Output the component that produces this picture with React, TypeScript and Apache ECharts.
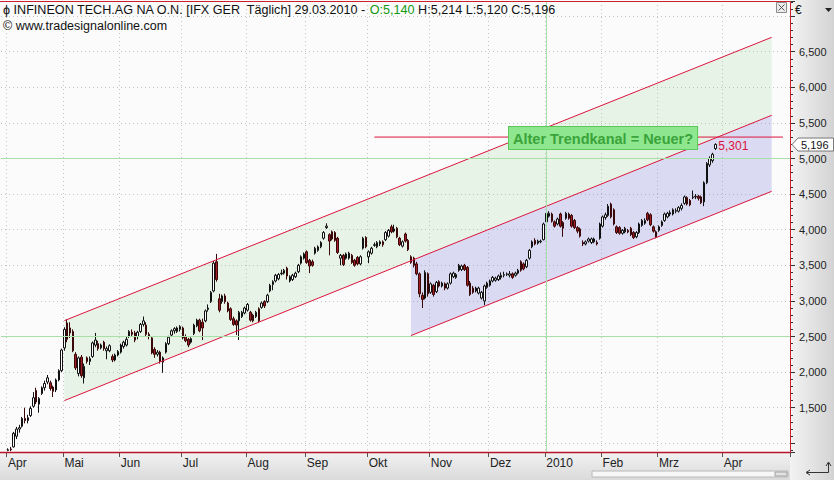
import React, { useEffect, useRef } from 'react';
import * as echarts from 'echarts';

// ---- Axis / calendar data ----
const monthLabels = ['Apr', 'Mai', 'Jun', 'Jul', 'Aug', 'Sep', 'Okt', 'Nov', 'Dez', '2010', 'Feb', 'Mrz', 'Apr'];
// trading-day number (from 1 Apr 2009) of the first session in each month
const monthStartDay = [0, 20, 40, 62, 85, 106, 128, 150, 171, 191, 211, 231, 254];
const LEAD = 2; // empty slots before the first session
const SLOTS = 280; // sessions shown incl. future space
const labelledRange = [1.5, 6.5]; // price labels shown on the right axis

// ---- Daily candles [open, close, low, high] (EUR) ----
const candlesApr09 = [
  [0.90, 0.91, 0.89, 0.93], [0.92, 0.91, 0.89, 0.95], [0.95, 1.14, 0.94, 1.16], [1.10, 1.20, 1.06, 1.23], [1.20, 1.22, 1.15, 1.26],
  [1.24, 1.35, 1.22, 1.37], [1.35, 1.32, 1.28, 1.50], [1.32, 1.36, 1.28, 1.40], [1.39, 1.49, 1.37, 1.52], [1.52, 1.64, 1.50, 1.72],
  [1.74, 1.58, 1.55, 1.78], [1.55, 1.63, 1.43, 1.65], [1.70, 1.78, 1.68, 1.80], [1.78, 1.84, 1.74, 1.88], [1.86, 1.92, 1.83, 1.96],
  [1.85, 1.77, 1.74, 1.88], [1.79, 1.73, 1.65, 1.81], [1.75, 1.89, 1.72, 1.91], [1.89, 2.02, 1.87, 2.04], [2.02, 2.31, 2.00, 2.33],
];
const candlesMai09 = [
  [2.34, 2.60, 2.30, 2.63], [2.69, 2.46, 2.42, 2.74], [2.62, 2.55, 2.48, 2.70], [2.57, 2.30, 2.28, 2.60], [2.25, 2.06, 2.03, 2.28],
  [1.98, 2.20, 1.94, 2.22], [2.21, 1.95, 1.92, 2.24], [1.92, 2.08, 1.84, 2.12], [2.20, 2.15, 2.12, 2.22], [2.15, 2.19, 2.10, 2.22],
  [2.22, 2.41, 2.20, 2.43], [2.38, 2.45, 2.35, 2.55], [2.40, 2.33, 2.30, 2.44], [2.34, 2.38, 2.32, 2.40], [2.42, 2.33, 2.30, 2.44],
  [2.30, 2.33, 2.18, 2.36], [2.30, 2.37, 2.28, 2.39], [2.22, 2.17, 2.14, 2.25], [2.17, 2.24, 2.15, 2.26], [2.24, 2.29, 2.22, 2.31],
];
const candlesJun09 = [
  [2.28, 2.38, 2.26, 2.40], [2.36, 2.42, 2.33, 2.44], [2.38, 2.46, 2.36, 2.50], [2.50, 2.57, 2.48, 2.59], [2.56, 2.53, 2.50, 2.60],
  [2.55, 2.45, 2.42, 2.58], [2.50, 2.56, 2.46, 2.58], [2.57, 2.67, 2.55, 2.69], [2.67, 2.72, 2.64, 2.78], [2.66, 2.53, 2.50, 2.70],
  [2.53, 2.50, 2.46, 2.56], [2.48, 2.27, 2.25, 2.50], [2.32, 2.25, 2.20, 2.35], [2.25, 2.28, 2.22, 2.31], [2.28, 2.15, 2.12, 2.30],
  [2.14, 2.20, 1.99, 2.22], [2.28, 2.40, 2.26, 2.42], [2.40, 2.49, 2.38, 2.51], [2.52, 2.58, 2.50, 2.60], [2.58, 2.61, 2.54, 2.63],
  [2.57, 2.62, 2.55, 2.64], [2.60, 2.64, 2.57, 2.66],
];
const candlesJul09 = [
  [2.62, 2.48, 2.46, 2.64], [2.50, 2.44, 2.42, 2.53], [2.46, 2.38, 2.35, 2.48], [2.42, 2.47, 2.40, 2.49], [2.54, 2.66, 2.52, 2.68],
  [2.65, 2.73, 2.63, 2.75], [2.73, 2.58, 2.56, 2.75], [2.70, 2.62, 2.45, 2.75], [2.72, 2.86, 2.70, 2.88], [2.88, 2.90, 2.85, 2.95],
  [2.99, 3.12, 2.97, 3.14], [3.14, 3.53, 3.12, 3.56], [3.55, 3.30, 3.27, 3.66], [3.03, 2.87, 2.84, 3.10], [2.99, 3.07, 2.96, 3.09],
  [3.07, 2.99, 2.96, 3.10], [2.97, 2.86, 2.84, 2.99], [2.89, 2.74, 2.72, 2.91], [2.75, 2.67, 2.65, 2.78], [2.72, 2.66, 2.52, 2.74],
  [2.72, 2.84, 2.45, 2.86], [2.78, 2.84, 2.76, 2.86], [2.83, 2.90, 2.81, 2.92],
];
const candlesAug09 = [
  [2.87, 2.95, 2.85, 2.97], [2.84, 2.73, 2.71, 2.86], [2.80, 2.72, 2.70, 2.82], [2.78, 2.84, 2.76, 2.86], [2.89, 2.72, 2.70, 2.91],
  [2.91, 2.97, 2.89, 2.99], [2.99, 2.93, 2.90, 3.01], [2.99, 3.08, 2.97, 3.10], [3.14, 3.22, 3.12, 3.24], [3.23, 3.27, 3.15, 3.29],
  [3.28, 3.36, 3.26, 3.38], [3.31, 3.37, 3.29, 3.39], [3.38, 3.39, 3.36, 3.44], [3.39, 3.43, 3.37, 3.45], [3.46, 3.35, 3.30, 3.48],
  [3.28, 3.34, 3.26, 3.36], [3.30, 3.36, 3.28, 3.38], [3.34, 3.39, 3.32, 3.41], [3.41, 3.50, 3.39, 3.52], [3.53, 3.62, 3.51, 3.64],
  [3.60, 3.66, 3.58, 3.68],
];
const candlesSep09 = [
  [3.69, 3.54, 3.52, 3.71], [3.57, 3.49, 3.39, 3.59], [3.55, 3.50, 3.48, 3.58], [3.67, 3.74, 3.65, 3.76], [3.71, 3.76, 3.69, 3.78],
  [3.76, 3.82, 3.74, 3.84], [3.88, 3.96, 3.86, 3.98], [4.03, 4.05, 4.01, 4.09], [3.93, 3.84, 3.64, 3.95], [3.97, 3.87, 3.85, 3.99],
  [3.96, 3.85, 3.83, 3.98], [3.88, 3.68, 3.66, 3.90], [3.60, 3.64, 3.50, 3.66], [3.64, 3.51, 3.49, 3.66], [3.60, 3.66, 3.58, 3.68],
  [3.60, 3.67, 3.58, 3.69], [3.64, 3.54, 3.52, 3.66], [3.57, 3.50, 3.48, 3.59], [3.61, 3.52, 3.50, 3.63], [3.52, 3.62, 3.50, 3.64],
  [3.74, 3.88, 3.72, 3.90], [3.89, 3.76, 3.74, 3.91],
];
const candlesOkt09 = [
  [3.62, 3.69, 3.53, 3.71], [3.67, 3.74, 3.65, 3.76], [3.78, 3.79, 3.76, 3.82], [3.76, 3.82, 3.74, 3.84], [3.80, 3.83, 3.77, 3.85],
  [3.83, 3.79, 3.76, 3.85], [3.86, 3.96, 3.84, 3.98], [3.91, 3.99, 3.89, 4.01], [4.04, 3.97, 3.95, 4.07], [3.98, 4.01, 3.96, 4.07],
  [4.02, 3.90, 3.88, 4.04], [3.88, 3.79, 3.77, 3.90], [3.77, 3.83, 3.75, 3.85], [3.94, 3.84, 3.82, 3.96], [3.85, 3.72, 3.70, 3.87],
  [3.62, 3.54, 3.52, 3.64], [3.60, 3.50, 3.47, 3.62], [3.52, 3.38, 3.36, 3.55], [3.38, 3.10, 3.05, 3.40], [3.08, 3.02, 2.90, 3.12],
  [3.04, 3.40, 3.02, 3.43], [3.38, 3.10, 3.06, 3.40],
];
const candlesNov09 = [
  [3.12, 3.24, 3.10, 3.26], [3.22, 3.09, 3.06, 3.24], [3.13, 3.26, 3.11, 3.28], [3.27, 3.21, 3.19, 3.29], [3.21, 3.25, 3.19, 3.27],
  [3.24, 3.18, 3.15, 3.26], [3.18, 3.24, 3.16, 3.26], [3.25, 3.38, 3.23, 3.40], [3.34, 3.39, 3.32, 3.41], [3.33, 3.37, 3.31, 3.39],
  [3.43, 3.50, 3.41, 3.52], [3.44, 3.49, 3.42, 3.51], [3.50, 3.44, 3.42, 3.52], [3.47, 3.22, 3.20, 3.49], [3.25, 3.09, 3.07, 3.28],
  [3.18, 3.12, 3.10, 3.21], [3.14, 3.18, 3.12, 3.20], [3.11, 3.18, 3.09, 3.20], [3.04, 3.12, 3.02, 3.14], [3.00, 3.21, 2.94, 3.23],
  [3.19, 3.25, 3.17, 3.27],
];
const candlesDez09 = [
  [3.22, 3.28, 3.20, 3.30], [3.28, 3.33, 3.26, 3.35], [3.29, 3.32, 3.27, 3.34], [3.30, 3.35, 3.28, 3.37], [3.33, 3.36, 3.30, 3.40],
  [3.36, 3.37, 3.33, 3.41], [3.37, 3.38, 3.35, 3.40], [3.36, 3.38, 3.33, 3.42], [3.38, 3.33, 3.31, 3.40], [3.36, 3.39, 3.34, 3.41],
  [3.39, 3.43, 3.37, 3.45], [3.55, 3.43, 3.41, 3.57], [3.52, 3.45, 3.43, 3.54], [3.48, 3.57, 3.46, 3.59], [3.60, 3.71, 3.58, 3.73],
  [3.76, 3.83, 3.74, 3.85], [3.85, 3.80, 3.78, 3.88], [3.81, 3.84, 3.79, 3.86], [3.83, 3.84, 3.81, 3.86], [3.86, 4.08, 3.85, 4.10],
];
const candlesJan10 = [
  [4.11, 4.23, 4.09, 4.32], [4.19, 4.23, 4.17, 4.26], [4.22, 4.12, 4.10, 4.24], [4.11, 4.05, 4.03, 4.13], [4.08, 4.15, 4.06, 4.17],
  [4.22, 4.05, 4.03, 4.24], [4.10, 4.02, 3.90, 4.12], [4.16, 4.23, 4.14, 4.25], [4.22, 4.16, 4.14, 4.24], [4.20, 4.05, 4.03, 4.22],
  [4.13, 4.03, 4.01, 4.15], [4.03, 3.98, 3.95, 4.05], [4.01, 3.91, 3.89, 4.03], [3.82, 3.80, 3.77, 3.85], [3.80, 3.83, 3.78, 3.85],
  [3.84, 3.87, 3.82, 3.89], [3.82, 3.87, 3.80, 3.89], [3.83, 3.87, 3.81, 3.89], [3.82, 3.80, 3.78, 3.85], [3.88, 4.08, 3.86, 4.10],
];
const candlesFeb10 = [
  [4.05, 4.18, 4.03, 4.20], [4.17, 4.21, 4.14, 4.24], [4.20, 4.33, 4.18, 4.36], [4.36, 4.18, 4.16, 4.38], [4.28, 4.08, 4.06, 4.30],
  [4.04, 3.96, 3.94, 4.06], [4.03, 3.95, 3.93, 4.05], [3.95, 3.99, 3.93, 4.01], [3.97, 4.02, 3.95, 4.04], [3.99, 3.97, 3.95, 4.01],
  [4.02, 3.93, 3.91, 4.04], [3.96, 3.89, 3.87, 3.98], [3.90, 3.96, 3.88, 3.98], [3.96, 4.08, 3.94, 4.10], [4.06, 4.13, 4.04, 4.15],
  [4.09, 4.13, 4.07, 4.16], [4.23, 4.14, 4.12, 4.25], [4.21, 4.07, 4.05, 4.23], [4.04, 3.98, 3.96, 4.06], [3.97, 3.90, 3.88, 3.99],
];
const candlesMrz10 = [
  [3.99, 4.04, 3.97, 4.06], [4.06, 4.11, 4.04, 4.13], [4.13, 4.22, 4.11, 4.24], [4.18, 4.23, 4.16, 4.25], [4.22, 4.24, 4.19, 4.27],
  [4.22, 4.28, 4.20, 4.30], [4.26, 4.27, 4.23, 4.30], [4.26, 4.31, 4.24, 4.33], [4.30, 4.34, 4.27, 4.37], [4.37, 4.46, 4.35, 4.48],
  [4.45, 4.36, 4.34, 4.47], [4.41, 4.35, 4.33, 4.43], [4.45, 4.46, 4.43, 4.55], [4.46, 4.47, 4.43, 4.50], [4.47, 4.44, 4.41, 4.49],
  [4.46, 4.38, 4.36, 4.48], [4.39, 4.66, 4.33, 4.68], [4.66, 4.93, 4.64, 4.95], [4.91, 5.00, 4.88, 5.03], [4.97, 5.06, 4.94, 5.08],
  [5.14, 5.196, 5.12, 5.214],
];

const lastQuote = { open: 5.14, high: 5.214, low: 5.12, close: 5.196 };
const targetLevel = 5.301;

// drawn lines: [tradingDay, value] end points
const upperLine = [[20, 2.723], [271, 6.702]];
const middleLine = [[20, 1.6], [271, 5.607]];
const lowerLine = [[143, 2.513], [271, 4.539]];
const targetLine = [[130, targetLevel], [275, targetLevel]];

const greenLevels = [2.5, 5.0];
const greenVerticalDay = 191;

const FONT = '"Liberation Sans", Arial, sans-serif';
const NARROW = '"Liberation Sans Narrow", "Arial Narrow", "Liberation Sans", sans-serif';
const fmt = (v: number) => v.toFixed(3).replace('.', ',');

export default function App() {
  const ref = useRef<HTMLDivElement>(null);
  useEffect(() => {
    const el = ref.current as HTMLDivElement;
    const chart = echarts.init(el, null, { renderer: 'svg' });

    const allCandles = [
      ...candlesApr09, ...candlesMai09, ...candlesJun09, ...candlesJul09, ...candlesAug09, ...candlesSep09,
      ...candlesOkt09, ...candlesNov09, ...candlesDez09, ...candlesJan10, ...candlesFeb10, ...candlesMrz10,
    ];
    const candleData: any[] = [...Array(LEAD).fill('-'), ...allCandles];
    const categories = Array.from({ length: SLOTS }, (_, i) => String(i));
    const startIdx = monthStartDay.map((d) => d + LEAD);
    const isStart = (i: number) => startIdx.indexOf(i) >= 0;

    const midAt = (day: number) => {
      const [[d0, v0], [d1, v1]] = middleLine;
      return v0 + ((day - d0) * (v1 - v0)) / (d1 - d0);
    };
    const channels = [
      { top: upperLine, bottom: middleLine, fill: 'rgba(150,215,150,0.2)' },
      {
        top: [[lowerLine[0][0], midAt(lowerLine[0][0])], middleLine[1]],
        bottom: lowerLine,
        fill: 'rgba(120,125,220,0.25)',
      },
    ];
    const redLines = [upperLine, middleLine, lowerLine, targetLine];
    const lineColor = '#dc143c';

    const option: any = {
      animation: false,
      backgroundColor: '#fbfbfb',
      grid: { left: 1, right: 44, top: 1, bottom: 28, show: false },
      xAxis: {
        type: 'category',
        data: categories,
        boundaryGap: true,
        axisLine: { show: false },
        axisTick: { show: true, interval: (i: number) => isStart(i), length: 5, lineStyle: { color: '#555' } },
        axisLabel: {
          interval: (i: number) => isStart(i),
          formatter: (_v: string, i: number) => monthLabels[startIdx.indexOf(i)] ?? '',
          align: 'left',
          margin: 5,
          fontSize: 12,
          fontFamily: NARROW,
          color: '#222',
        },
        splitLine: { show: true, interval: (i: number) => isStart(i), lineStyle: { color: '#c4c4c4', type: [1, 3] } },
      },
      yAxis: {
        type: 'value',
        position: 'right',
        offset: 1,
        min: 0.878,
        max: 7.212,
        minInterval: 0.5,
        maxInterval: 0.5,
        splitNumber: 13,
        axisLine: { show: false },
        axisTick: { show: true, length: 4, lineStyle: { color: '#333' } },
        minorTick: { show: true, splitNumber: 5, length: 2, lineStyle: { color: '#333' } },
        axisLabel: {
          formatter: (v: number) => (v >= labelledRange[0] - 1e-6 && v <= labelledRange[1] + 1e-6 ? fmt(v) : ''),
          showMinLabel: false,
          showMaxLabel: false,
          margin: 8,
          fontSize: 11,
          fontFamily: FONT,
          color: '#222',
        },
        splitLine: { show: true, lineStyle: { color: '#c4c4c4', type: [1, 3] } },
      },
      series: [
        {
          type: 'custom',
          z: 1,
          silent: true,
          data: channels.map((c) => [c.top[0][0] + LEAD, c.top[0][1]]),
          encode: { x: 0, y: 1 },
          renderItem: (params: any, api: any) => {
            const c = channels[params.dataIndex];
            const t1 = api.coord([c.top[0][0] + LEAD, c.top[0][1]]);
            const t2 = api.coord([c.top[1][0] + LEAD, c.top[1][1]]);
            const b1 = api.coord([c.bottom[0][0] + LEAD, c.bottom[0][1]]);
            const b2 = api.coord([c.bottom[1][0] + LEAD, c.bottom[1][1]]);
            return {
              type: 'group',
              children: [
                { type: 'polygon', shape: { points: [t1, t2, b2, b1] }, style: { fill: c.fill } },
              ],
            };
          },
          markLine: {
            silent: true,
            symbol: 'none',
            label: { show: false },
            lineStyle: { color: '#a6e0a6', type: 'solid', width: 1 },
            data: [
              ...greenLevels.map((v) => ({ yAxis: v })),
              { xAxis: greenVerticalDay + LEAD },
            ],
          },
        },
        {
          type: 'candlestick',
          z: 3,
          silent: true,
          barWidth: 2,
          data: candleData,
          itemStyle: {
            color: '#ffffff',
            color0: '#a31d24',
            borderColor: '#111111',
            borderColor0: '#3a0808',
            borderWidth: 1,
          },
        },
        {
          type: 'custom',
          z: 4,
          silent: true,
          clip: false,
          data: redLines.map((l) => [l[0][0] + LEAD, l[0][1]]),
          encode: { x: 0, y: 1 },
          renderItem: (params: any, api: any) => {
            const l = redLines[params.dataIndex];
            const p1 = api.coord([l[0][0] + LEAD, l[0][1]]);
            const p2 = api.coord([l[1][0] + LEAD, l[1][1]]);
            return {
              type: 'line',
              shape: { x1: p1[0], y1: p1[1], x2: p2[0], y2: p2[1] },
              style: { stroke: lineColor, lineWidth: 1 },
            };
          },
        },
      ],
    };
    chart.setOption(option);

    const tagY = chart.convertToPixel({ yAxisIndex: 0 }, lastQuote.close) as number;
    const hi = chart.convertToPixel({ gridIndex: 0 }, [allCandles.length - 1 + LEAD, lastQuote.high]) as number[];

    const graphic: any[] = [
      // right & bottom panels
      {
        type: 'rect', z: -10, silent: true,
        shape: { x: 790, y: 0, width: 44, height: 480 },
        style: { fill: new echarts.graphic.LinearGradient(0, 0, 1, 0, [{ offset: 0, color: '#f3f3f3' }, { offset: 1, color: '#d3d3d3' }]) },
      },
      {
        type: 'rect', z: -10, silent: true,
        shape: { x: 0, y: 452, width: 790, height: 28 },
        style: { fill: new echarts.graphic.LinearGradient(0, 0, 0, 1, [{ offset: 0, color: '#f2f2f2' }, { offset: 1, color: '#dadada' }]) },
      },
      // scrollbar
      { type: 'rect', silent: true, shape: { x: 592, y: 471, width: 196, height: 6 }, style: { fill: '#f7f7f7', stroke: '#b8b8b8', lineWidth: 1 } },
      { type: 'rect', silent: true, shape: { x: 775, y: 472, width: 12, height: 4 }, style: { fill: '#e2e2e2', stroke: '#a0a0a0', lineWidth: 1 } },
      // plot border
      { type: 'line', silent: true, z: 50, shape: { x1: 0, y1: 1.5, x2: 790.5, y2: 1.5 }, style: { stroke: '#cc1f30', lineWidth: 1 } },
      { type: 'line', silent: true, z: 50, shape: { x1: 790.5, y1: 1.5, x2: 790.5, y2: 452.5 }, style: { stroke: '#cc1f30', lineWidth: 1 } },
      { type: 'line', silent: true, z: 50, shape: { x1: 0, y1: 452.5, x2: 790.5, y2: 452.5 }, style: { stroke: '#b8142a', lineWidth: 1.5 } },
      // header
      {
        type: 'text', z: 60, silent: true, x: 3, y: 3,
        style: {
          text: 'ϕ INFINEON TECH.AG NA O.N. [IFX GER  Täglich] 29.03.2010 - {g|O:' + fmt(lastQuote.open) + '} H:' + fmt(lastQuote.high) + ' L:' + fmt(lastQuote.low) + ' C:' + fmt(lastQuote.close),
          font: '12.6px ' + FONT,
          fill: '#111',
          rich: { g: { fill: '#119911', font: '12.6px ' + FONT } },
        },
      },
      {
        type: 'text', z: 60, silent: true, x: 3, y: 19,
        style: { text: '© www.tradesignalonline.com', font: '12.5px ' + FONT, fill: '#111' },
      },
      // close box
      { type: 'rect', z: 60, silent: true, shape: { x: 776.5, y: 2.5, width: 10, height: 10 }, style: { fill: '#ececec', stroke: '#8a8a8a', lineWidth: 1 } },
      { type: 'line', z: 61, silent: true, shape: { x1: 778.5, y1: 4.5, x2: 784.5, y2: 10.5 }, style: { stroke: '#555', lineWidth: 1 } },
      { type: 'line', z: 61, silent: true, shape: { x1: 784.5, y1: 4.5, x2: 778.5, y2: 10.5 }, style: { stroke: '#555', lineWidth: 1 } },
      // currency & dropdown
      { type: 'text', z: 60, silent: true, x: 795, y: 4, style: { text: '€', font: '12px ' + FONT, fill: '#111' } },
      { type: 'polygon', z: 60, silent: true, shape: { points: [[825, 8], [832, 8], [828.5, 12]] }, style: { fill: '#222' } },
      // last price tag
      {
        type: 'polygon', z: 60, silent: true,
        shape: { points: [[792, tagY], [798, tagY - 6.5], [833.5, tagY - 6.5], [833.5, tagY + 6.5], [798, tagY + 6.5]] },
        style: { fill: '#ffffff', stroke: '#777', lineWidth: 1 },
      },
      {
        type: 'text', z: 61, silent: true, x: 801, y: tagY,
        style: { text: fmt(lastQuote.close), font: '11px ' + FONT, fill: '#111', verticalAlign: 'middle' },
      },
      // target label
      {
        type: 'text', z: 61, silent: true, x: hi[0] + 3, y: hi[1] + 3,
        style: { text: fmt(targetLevel), font: '12px ' + FONT, fill: '#dc143c', verticalAlign: 'middle' },
      },
      // annotation
      {
        type: 'text', z: 62, silent: true, x: 509, y: 127,
        style: {
          text: 'Alter Trendkanal = Neuer?',
          font: 'bold 14.5px ' + FONT,
          fill: '#3aa33a',
          backgroundColor: '#8ee68e',
          borderColor: '#5cc85c',
          borderWidth: 1,
          padding: [4, 4, 3, 4],
        },
      },
      // corner icon
      { type: 'polyline', z: 60, silent: true, shape: { points: [[828.5, 463], [828.5, 472.5], [807, 472.5]] }, style: { stroke: '#333', lineWidth: 1, fill: 'none' } },
      { type: 'polyline', z: 60, silent: true, shape: { points: [[826, 466], [828.5, 462], [831, 466]] }, style: { stroke: '#333', lineWidth: 1, fill: 'none' } },
      { type: 'polyline', z: 60, silent: true, shape: { points: [[810, 470], [806, 472.5], [810, 475]] }, style: { stroke: '#333', lineWidth: 1, fill: 'none' } },
    ];
    chart.setOption({ graphic });

    return () => chart.dispose();
  }, []);
  return <div ref={ref} style={{ position: 'absolute', left: 0, top: 0, width: 834, height: 480 }} />;
}
